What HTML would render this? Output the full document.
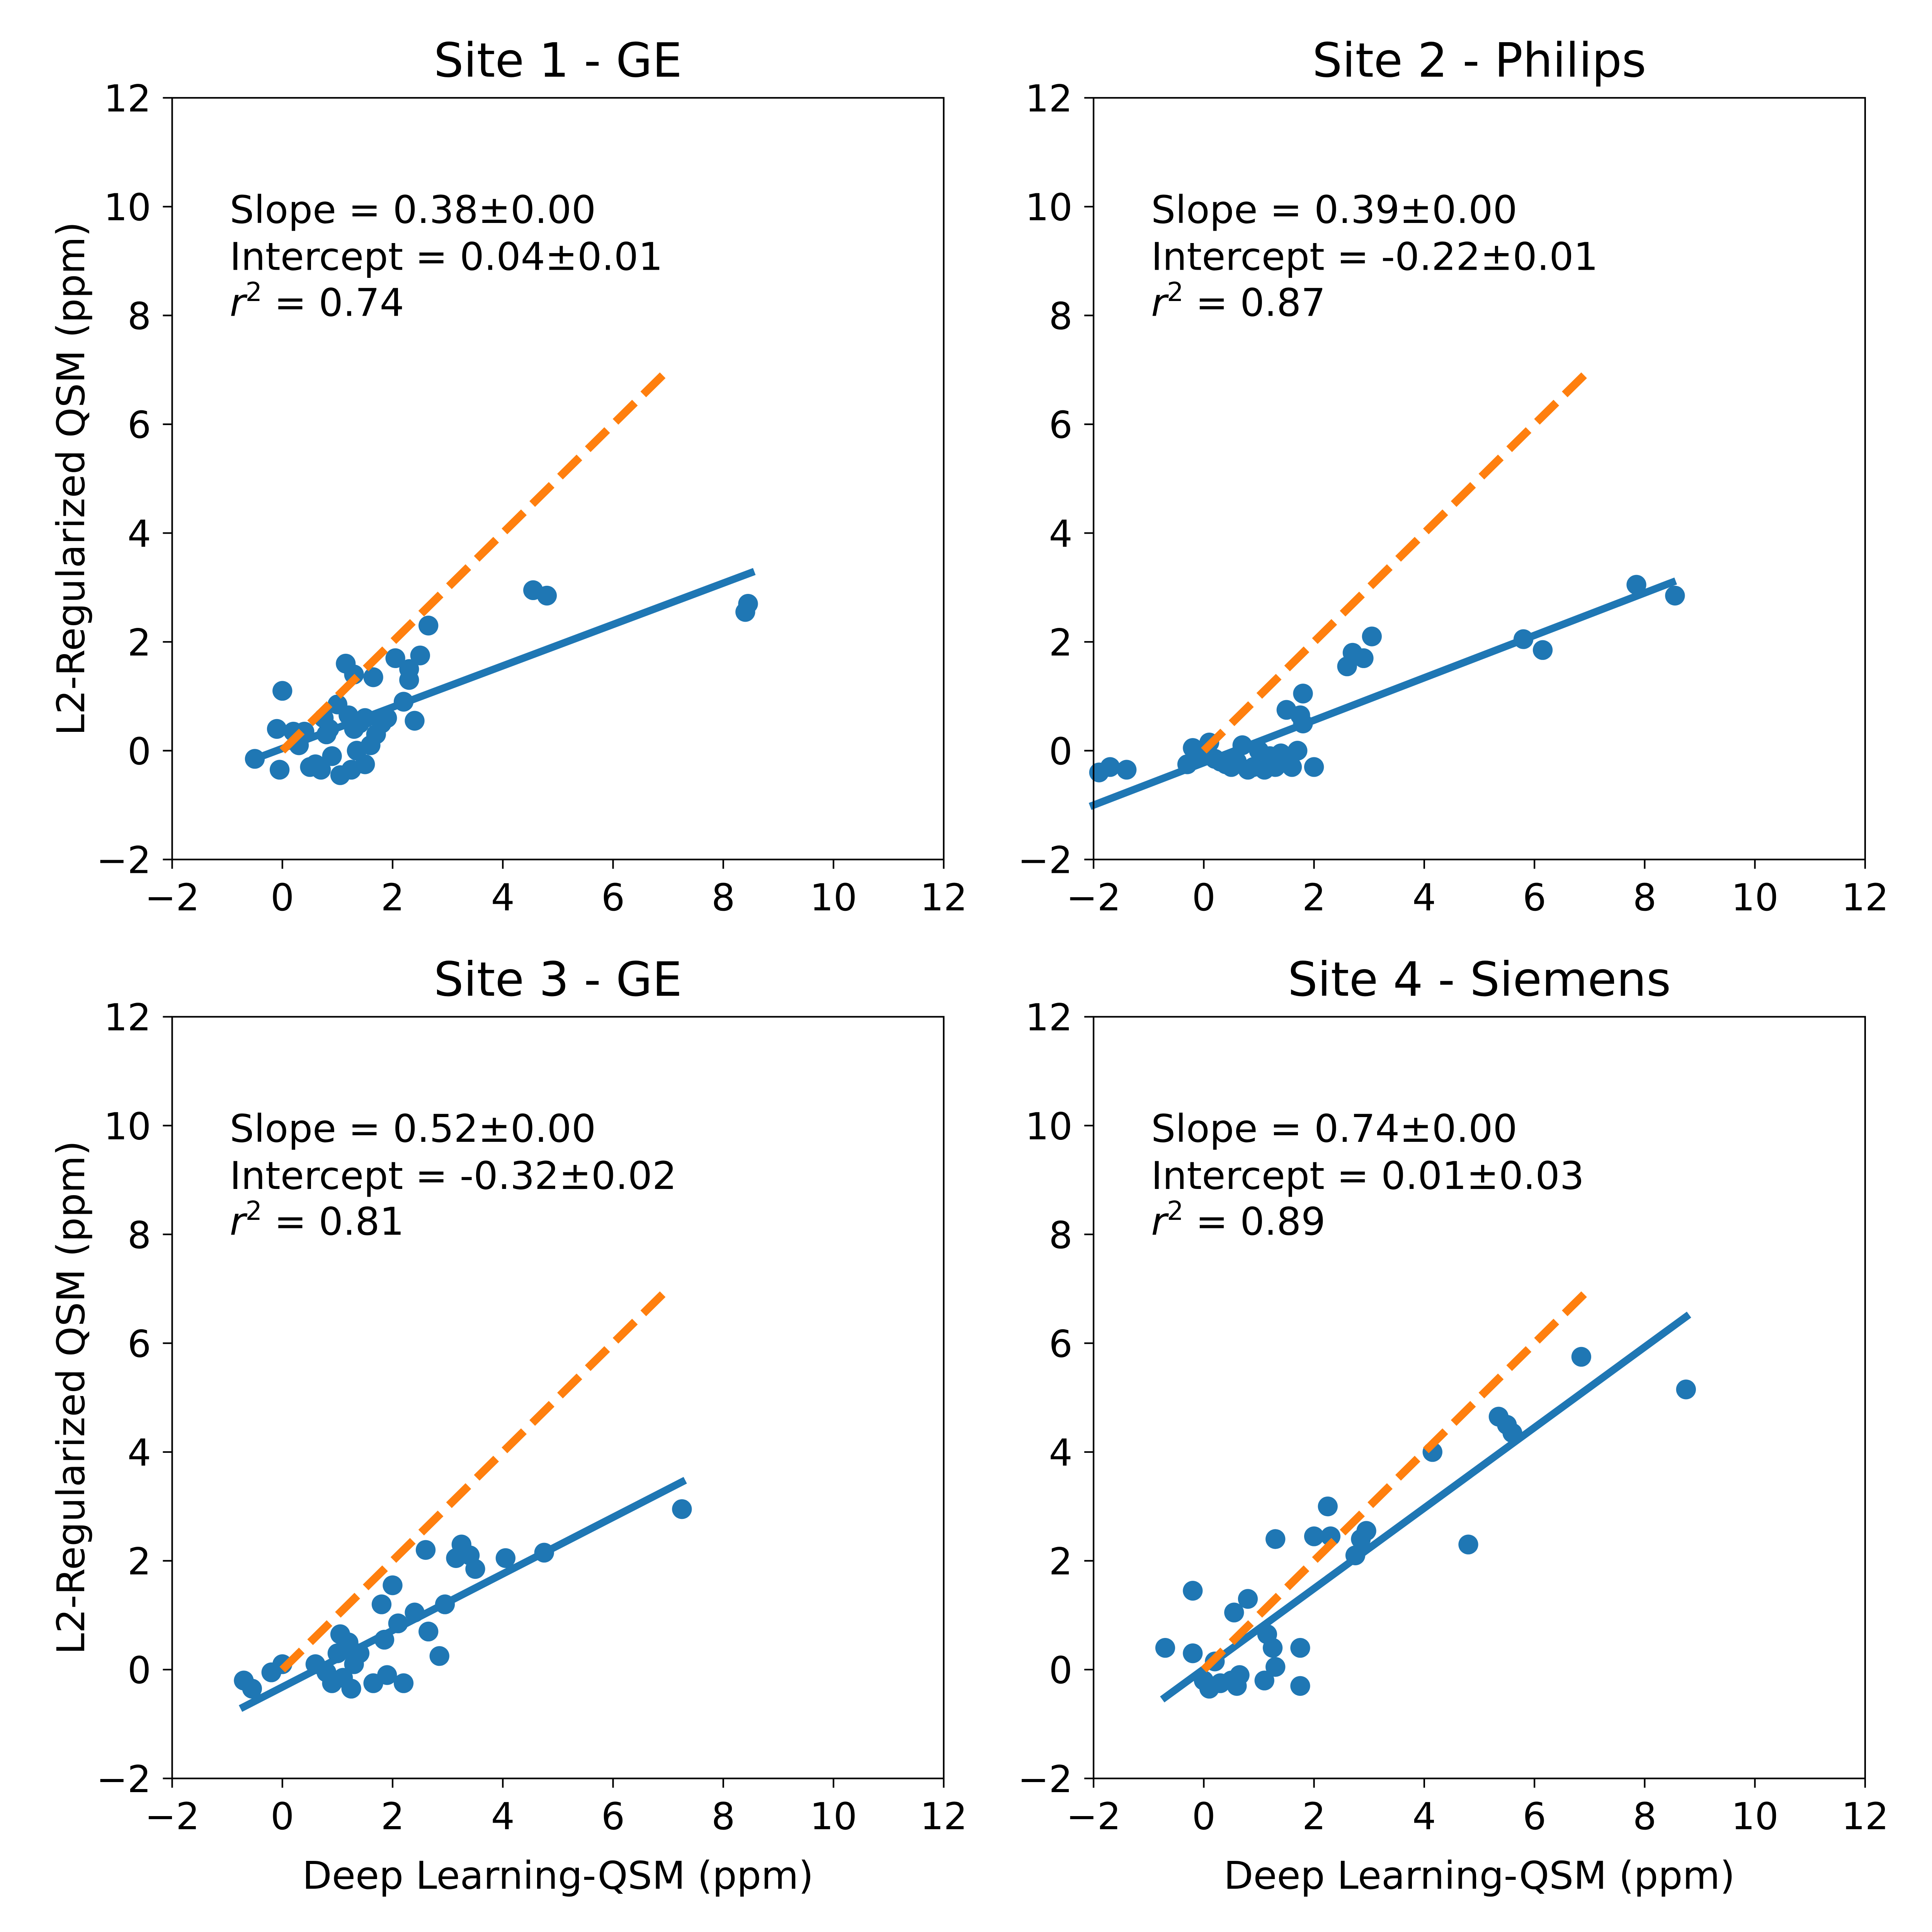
<!DOCTYPE html>
<html><head><meta charset="utf-8"><style>
html,body{margin:0;padding:0;background:#fff;width:5000px;height:5000px;overflow:hidden;}
svg{display:block;width:5000px;height:5000px;}
text{font-family:"DejaVu Sans","Liberation Sans",sans-serif;fill:#000;}
</style></head><body>
<svg id="root" xmlns="http://www.w3.org/2000/svg" width="5000" height="5000">
<rect width="5000" height="5000" fill="#fff"/>
<g id="chart" transform="scale(3.205128)"></g>
</svg>
<script>
const titles = ["Site 1 - GE","Site 2 - Philips","Site 3 - GE","Site 4 - Siemens"];
const slopes = [0.38,0.39,0.52,0.74];
const intercepts = [0.04,-0.22,-0.32,0.01];
const slopeLabels = ["0.38±0.00","0.39±0.00","0.52±0.00","0.74±0.00"];
const interceptLabels = ["0.04±0.01","-0.22±0.01","-0.32±0.02","0.01±0.03"];
const r2Labels = ["0.74","0.87","0.81","0.89"];
const fitRanges = [[-0.5,8.5],[-2,8.5],[-0.7,7.25],[-0.7,8.75]];
const identityRange = [0,7];
const ticks = [-2,0,2,4,6,8,10,12];
const s1x = [-0.5,0,-0.1,-0.05,0.2,0.3,0.4,0.5,0.6,0.7,0.75,0.8,0.9,0.85,1,1.05,1.15,1.2,1.25,1.3,1.3,1.35,1.4,1.5,1.5,1.6,1.65,1.7,1.8,1.9,2.05,2.2,2.3,2.3,2.4,2.5,2.65,4.55,4.8,8.4,8.45];
const s1y = [-0.15,1.1,0.4,-0.35,0.35,0.1,0.35,-0.3,-0.25,-0.35,0.6,0.3,-0.1,0.4,0.85,-0.45,1.6,0.65,-0.35,1.4,0.4,0,0.5,-0.25,0.6,0.1,1.35,0.3,0.5,0.6,1.7,0.9,1.3,1.5,0.55,1.75,2.3,2.95,2.85,2.55,2.7];
const s2x = [-1.9,-1.7,-1.4,-0.3,-0.2,-0.1,0.1,0.2,0.3,0.4,0.5,0.6,0.7,0.8,0.9,1,1.1,1.2,1.3,1.4,1.5,1.6,1.7,1.75,1.8,1.8,2,2.6,2.7,2.9,3.05,5.8,6.15,7.85,8.55];
const s2y = [-0.4,-0.3,-0.35,-0.25,0.05,-0.1,0.15,-0.15,-0.2,-0.25,-0.3,-0.2,0.1,-0.35,-0.3,0,-0.35,-0.1,-0.3,-0.05,0.75,-0.3,0,0.65,0.5,1.05,-0.3,1.55,1.8,1.7,2.1,2.05,1.85,3.05,2.85];
const s3x = [-0.7,-0.55,-0.2,0,0.6,0.8,0.9,1,1.05,1.1,1.2,1.25,1.3,1.4,1.65,1.8,1.85,1.9,2,2.1,2.2,2.4,2.6,2.65,2.85,2.95,3.15,3.25,3.4,3.5,4.05,4.75,7.25];
const s3y = [-0.2,-0.35,-0.05,0.1,0.1,-0.05,-0.25,0.3,0.65,-0.15,0.5,-0.35,0.1,0.3,-0.25,1.2,0.55,-0.1,1.55,0.85,-0.25,1.05,2.2,0.7,0.25,1.2,2.05,2.3,2.1,1.85,2.05,2.15,2.95];
const s4x = [-0.7,-0.2,-0.2,0,0.1,0.2,0.3,0.5,0.55,0.6,0.65,0.8,1.1,1.15,1.25,1.3,1.3,1.75,1.75,2,2.25,2.3,2.75,2.85,2.95,4.15,4.8,5.35,5.5,5.6,6.85,8.75];
const s4y = [0.4,1.45,0.3,-0.2,-0.35,0.15,-0.25,-0.2,1.05,-0.3,-0.1,1.3,-0.2,0.65,0.4,2.4,0.05,0.4,-0.3,2.45,3,2.45,2.1,2.4,2.55,4,2.3,4.65,4.5,4.35,5.75,5.15];
const xs=[s1x,s2x,s3x,s4x], ys=[s1y,s2y,s3y,s4y];

const NS="http://www.w3.org/2000/svg";
const svg=document.getElementById('chart');
function mk(tag,attrs,parent){const e=document.createElementNS(NS,tag);for(const k in attrs)e.setAttribute(k,attrs[k]);(parent||svg).appendChild(e);return e;}
const lefts=[139,883,139,883], tops=[79,79,821,821];
const W=623, H=615;
for(let p=0;p<4;p++){
  const L=lefts[p],T=tops[p],B=T+H,R=L+W;
  const sx=v=>L+(v+2)/14*W, sy=v=>B-(v+2)/14*H;
  const g=mk('g',{});
  
  
  const t=mk('text',{x:(L+R)/2,y:T-17,'text-anchor':'middle','font-size':'38'},g);
  t.textContent=titles[p];
  
  
  ticks.forEach(v=>{
    mk('line',{x1:sx(v),x2:sx(v),y1:B,y2:B+7.5,stroke:'#000','stroke-width':1.3},g);
    const tx=mk('text',{x:sx(v),y:B+41,'text-anchor':'middle','font-size':'30'},g);
    tx.textContent=v<0?'\u2212'+(-v):String(v);
    
    
    mk('line',{x1:L-7.5,x2:L,y1:sy(v),y2:sy(v),stroke:'#000','stroke-width':1.3},g);
    const ty=mk('text',{x:L-17,y:sy(v)+11,'text-anchor':'end','font-size':'30'},g);
    ty.textContent=v<0?'\u2212'+(-v):String(v);
    
    
  });
  xs[p].forEach((x,i)=>{
    const c=mk('circle',{cx:sx(x),cy:sy(ys[p][i]),r:8,fill:'#1f77b4'},g);
    
    
  });
  const fr=fitRanges[p];
  const fl=mk('line',{x1:sx(fr[0]),y1:sy(slopes[p]*fr[0]+intercepts[p]),x2:sx(fr[1]),y2:sy(slopes[p]*fr[1]+intercepts[p]),stroke:'#1f77b4','stroke-width':6,'stroke-linecap':'square'},g);
  
  
  const il=mk('line',{x1:sx(identityRange[0]),y1:sy(identityRange[0]),x2:sx(identityRange[1]),y2:sy(identityRange[1]),stroke:'#ff7f0e','stroke-width':6.5,'stroke-dasharray':'22 9.5'},g);
  
  
  const fr2=mk('rect',{x:L,y:T,width:W,height:H,fill:'none',stroke:'#000','stroke-width':1.3},g);
  
  
  const a1=mk('text',{x:L+46.5,y:T+101,'font-size':'31'},g);
  a1.textContent='Slope = '+slopeLabels[p];
  
  
  const a2=mk('text',{x:L+46.5,y:T+139,'font-size':'31'},g);
  a2.textContent='Intercept = '+interceptLabels[p];
  
  
  const a3=mk('text',{x:L+46.5,y:T+176,'font-size':'31'},g);
  a3.innerHTML='<tspan font-style="italic">r</tspan><tspan dy="-12" font-size="21">2</tspan><tspan dy="12"> = '+r2Labels[p]+'</tspan>';
  
  
  if(p%2===0){
    const yl=mk('text',{x:0,y:0,'text-anchor':'middle','font-size':'31',transform:`translate(68,${(T+B)/2}) rotate(-90)`},g);
    yl.textContent='L2-Regularized QSM (ppm)';
    
    
  }
  if(p>=2){
    const xl=mk('text',{x:(L+R)/2,y:B+89,'text-anchor':'middle','font-size':'31'},g);
    xl.textContent='Deep Learning-QSM (ppm)';
    
    
  }
}
</script>
</body></html>
